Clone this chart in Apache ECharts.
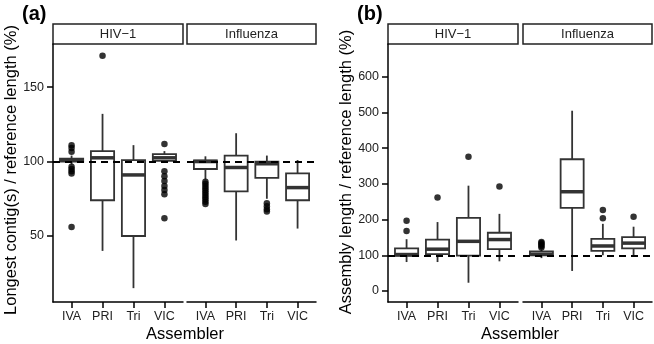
<!DOCTYPE html>
<html>
<head>
<meta charset="utf-8">
<script src="https://cdn.jsdelivr.net/npm/echarts@6/dist/echarts.min.js"></script>
<style>
  html, body { margin: 0; padding: 0; background: #fff; }
  #main { width: 654px; height: 344px; }
</style>
</head>
<body>
<div id="main"></div>
<script>
const assemblers = ['IVA', 'PRI', 'Tri', 'VIC'];
const facets = ['HIV−1', 'Influenza'];

// (a) longest contig(s) / reference length (%) -> [min, Q1, median, Q3, max]
const aHivBox = [[98, 100, 101, 102, 104], [40, 74, 102.5, 107, 132], [15, 50, 91, 101, 111], [99, 100.5, 102.5, 105, 107]];
const aHivOut = [[111, 109, 106.5, 96.5, 95, 93.5, 92, 56], [171], [], [111.8, 93.5, 90.2, 86.9, 83.5, 80.9, 78, 62]];
const aFluBox = [[88, 95, 100, 100.7, 103.5], [47, 80, 96, 104, 119], [75, 89, 98.5, 100, 104], [55, 74, 82.5, 92, 101]];
const aFluOut = [[86.5, 85, 83.5, 82, 80.5, 79, 77.5, 76, 74.5, 73, 71.5], [], [72, 70, 68, 66.5], []];

// (b) assembly length / reference length (%)
const bHivBox = [[81, 98, 102, 119, 145], [81, 103, 117, 144, 193], [23, 99, 139, 205, 295], [83, 117, 144, 163, 216]];
const bHivOut = [[168, 197], [262], [376], [293]];
const bFluBox = [[92, 100, 103, 111, 116], [56, 233, 278, 369, 505], [100, 112, 126, 146, 188], [100, 119, 134, 151, 180]];
const bFluOut = [[122, 126, 130, 134, 137], [], [204, 227], [208]];

const aTicks = [50, 100, 150];
const bTicks = [0, 100, 200, 300, 400, 500, 600];
const refLine = 100;

const font = 'Liberation Sans, Arial, Helvetica, sans-serif';
const ink = '#333';

const panels = [
  { grid: { left: 53, top: 44, width: 130, height: 258 }, box: aHivBox, out: aHivOut, facet: 0, ymin: 5.7, ymax: 178.9, ticks: aTicks, showY: true },
  { grid: { left: 187, top: 44, width: 129, height: 258 }, box: aFluBox, out: aFluOut, facet: 1, ymin: 5.7, ymax: 178.9, ticks: aTicks, showY: false },
  { grid: { left: 388, top: 44, width: 130, height: 258 }, box: bHivBox, out: bHivOut, facet: 0, ymin: -31, ymax: 692, ticks: bTicks, showY: true },
  { grid: { left: 523, top: 44, width: 129, height: 258 }, box: bFluBox, out: bFluOut, facet: 1, ymin: -31, ymax: 692, ticks: bTicks, showY: false }
];

function renderBox(params, api) {
  const x = api.value(0);
  const lo = api.coord([x, api.value(1)]);
  const q1 = api.coord([x, api.value(2)]);
  const md = api.coord([x, api.value(3)]);
  const q3 = api.coord([x, api.value(4)]);
  const hi = api.coord([x, api.value(5)]);
  const hw = api.size([1, 0])[0] * 0.375;
  const st = { stroke: ink, lineWidth: 1.8 };
  return {
    type: 'group',
    children: [
      { type: 'line', shape: { x1: lo[0], y1: lo[1], x2: q1[0], y2: q1[1] }, style: st },
      { type: 'line', shape: { x1: q3[0], y1: q3[1], x2: hi[0], y2: hi[1] }, style: st },
      { type: 'rect', shape: { x: q3[0] - hw, y: q3[1], width: 2 * hw, height: q1[1] - q3[1] }, style: { fill: '#fff', stroke: ink, lineWidth: 1.8 } },
      { type: 'line', shape: { x1: md[0] - hw, y1: md[1], x2: md[0] + hw, y2: md[1] }, style: { stroke: ink, lineWidth: 3.5 } }
    ]
  };
}

const xAxis = [], yAxis = [], series = [], graphic = [];
panels.forEach((p, i) => {
  xAxis.push({
    type: 'value', gridIndex: i, min: 0.4, max: 4.6,
    axisLine: { show: true, onZero: false, lineStyle: { color: '#000', width: 1.5 } },
    axisTick: { show: true, length: 6, customValues: [1, 2, 3, 4], lineStyle: { color: '#000', width: 1.5 } },
    axisLabel: { customValues: [1, 2, 3, 4], formatter: v => assemblers[v - 1], margin: 8, fontSize: 12.5, color: '#222', fontFamily: font },
    splitLine: { show: false }
  });
  yAxis.push({
    type: 'value', gridIndex: i, min: p.ymin, max: p.ymax, show: p.showY,
    axisLine: { show: true, onZero: false, lineStyle: { color: '#000', width: 1.5 } },
    axisTick: { show: true, length: 6, customValues: p.ticks, lineStyle: { color: '#000', width: 1.5 } },
    axisLabel: { customValues: p.ticks, margin: 9, fontSize: 12.5, color: '#222', fontFamily: font },
    splitLine: { show: false }
  });
  series.push({
    type: 'line', xAxisIndex: i, yAxisIndex: i, data: [], z: 1, silent: true,
    markLine: {
      silent: true, symbol: 'none', label: { show: false },
      lineStyle: { color: '#000', type: [7, 5], width: 1.8 },
      data: [{ yAxis: refLine }]
    }
  });
  series.push({
    type: 'custom', xAxisIndex: i, yAxisIndex: i, z: 2,
    renderItem: renderBox,
    encode: { x: 0, y: [1, 2, 3, 4, 5] },
    data: p.box.map((b, k) => [k + 1].concat(b))
  });
  series.push({
    type: 'scatter', xAxisIndex: i, yAxisIndex: i, z: 3,
    symbolSize: 6.5, itemStyle: { color: '#000' },
    data: p.out.flatMap((vals, k) => vals.map(v => [k + 1, v]))
  });
  // facet strip
  graphic.push({
    type: 'rect', shape: { x: p.grid.left, y: 24, width: p.grid.width, height: 20 },
    style: { fill: '#fff', stroke: '#222', lineWidth: 1.5 }
  });
  graphic.push({
    type: 'text', x: p.grid.left + p.grid.width / 2, y: 34,
    style: { text: facets[p.facet], fontSize: 13, fontFamily: font, fill: '#222', align: 'center', verticalAlign: 'middle' }
  });
});

graphic.push(
  { type: 'text', x: 22, y: 14, style: { text: '(a)', fontSize: 20, fontWeight: 'bold', fontFamily: font, fill: '#000', verticalAlign: 'middle' } },
  { type: 'text', x: 357, y: 14, style: { text: '(b)', fontSize: 20, fontWeight: 'bold', fontFamily: font, fill: '#000', verticalAlign: 'middle' } },
  { type: 'text', x: 11, y: 170, rotation: Math.PI / 2, style: { text: 'Longest contig(s) / reference length (%)', fontSize: 16.5, fontFamily: font, fill: '#000', align: 'center', verticalAlign: 'middle' } },
  { type: 'text', x: 346, y: 172, rotation: Math.PI / 2, style: { text: 'Assembly length / reference length (%)', fontSize: 16.5, fontFamily: font, fill: '#000', align: 'center', verticalAlign: 'middle' } },
  { type: 'text', x: 185, y: 334, style: { text: 'Assembler', fontSize: 16.5, fontFamily: font, fill: '#000', align: 'center', verticalAlign: 'middle' } },
  { type: 'text', x: 520, y: 334, style: { text: 'Assembler', fontSize: 16.5, fontFamily: font, fill: '#000', align: 'center', verticalAlign: 'middle' } }
);

const myChart = echarts.init(document.getElementById('main'));
myChart.setOption({
  animation: false,
  backgroundColor: '#fff',
  grid: panels.map(p => p.grid),
  xAxis: xAxis,
  yAxis: yAxis,
  series: series,
  graphic: graphic
});
</script>
</body>
</html>
